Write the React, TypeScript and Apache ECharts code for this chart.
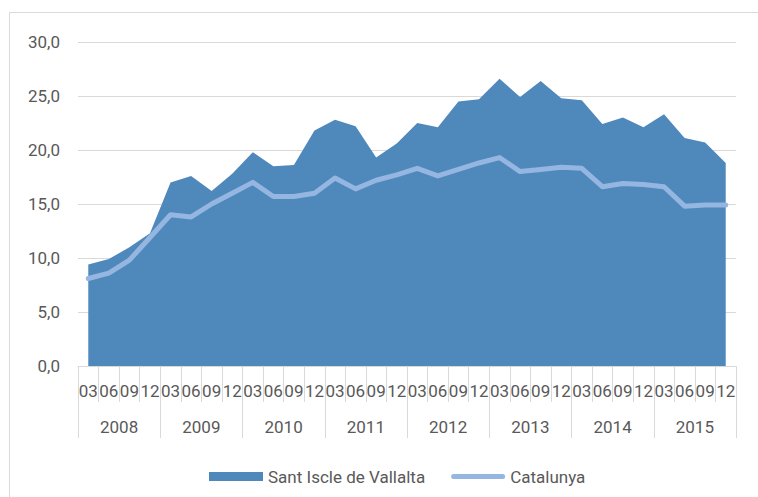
import React, { useEffect, useRef } from "react";
import * as echarts from "echarts";

const years = ["2008", "2009", "2010", "2011", "2012", "2013", "2014", "2015"];
const months = ["03", "06", "09", "12"];
const categories = years.flatMap((y) => months.map((m) => `${y}-${m}`));

const santIscle = [
  9.4, 9.9, 11.0, 12.3,
  17.0, 17.6, 16.2, 17.8,
  19.8, 18.5, 18.6, 21.8,
  22.8, 22.2, 19.3, 20.6,
  22.5, 22.1, 24.5, 24.7,
  26.6, 24.9, 26.4, 24.8,
  24.6, 22.4, 23.0, 22.1,
  23.3, 21.1, 20.7, 18.8,
];

const catalunya = [
  8.1, 8.6, 9.8, 11.9,
  14.0, 13.8, 15.0, 16.0,
  17.0, 15.7, 15.7, 16.0,
  17.4, 16.4, 17.2, 17.7,
  18.3, 17.6, 18.2, 18.8,
  19.3, 18.0, 18.2, 18.4,
  18.3, 16.6, 16.9, 16.8,
  16.6, 14.8, 14.9, 14.9,
];

const FONT = "Roboto";
const TEXT = "#595959";
const GRID = "#d9d9d9";

export default function App() {
  const ref = useRef<HTMLDivElement>(null);
  useEffect(() => {
    if (!ref.current) return;
    const chart = echarts.init(ref.current, null, { renderer: "svg" });
    chart.setOption({
      animation: false,
      textStyle: { fontFamily: FONT },
      graphic: [
        {
          type: "rect",
          shape: { x: 9.5, y: 12.5, width: 760, height: 500 },
          style: { fill: "none", stroke: GRID, lineWidth: 1 },
          silent: true,
        },
      ],
      grid: { left: 78, right: 22, top: 42, bottom: 131, containLabel: false },
      legend: {
        left: 204,
        top: 463,
        itemWidth: 54,
        itemHeight: 9,
        itemGap: 26,
        textStyle: { color: TEXT, fontSize: 17, fontFamily: FONT },
        data: [
          { name: "Sant Iscle de Vallalta", icon: "rect" },
          {
            name: "Catalunya",
            icon: "path://M2.5,0 L51.5,0 A2.5,2.5 0 0 1 51.5,5 L2.5,5 A2.5,2.5 0 0 1 2.5,0 Z",
          },
        ],
      },
      xAxis: [
        {
          type: "category",
          data: categories,
          boundaryGap: true,
          axisLine: { show: true, lineStyle: { color: GRID } },
          axisTick: { show: true, interval: 0, length: 36, lineStyle: { color: GRID } },
          axisLabel: {
            interval: 0,
            margin: 16,
            color: TEXT,
            fontSize: 17,
            fontFamily: FONT,
            formatter: (v: string) => v.split("-")[1],
          },
        },
        {
          type: "category",
          data: years,
          position: "bottom",
          boundaryGap: true,
          axisLine: { show: false },
          axisTick: { show: true, interval: 0, length: 72, lineStyle: { color: GRID } },
          axisLabel: { interval: 0, margin: 52, color: TEXT, fontSize: 17, fontFamily: FONT },
        },
      ],
      yAxis: {
        type: "value",
        min: 0,
        max: 30,
        interval: 5,
        axisLine: { show: false },
        axisTick: { show: false },
        splitLine: { lineStyle: { color: GRID, width: 1 } },
        axisLabel: {
          margin: 18,
          color: TEXT,
          fontSize: 17,
          fontFamily: FONT,
          formatter: (v: number) => v.toFixed(1).replace(".", ","),
        },
      },
      series: [
        {
          name: "Sant Iscle de Vallalta",
          type: "line",
          data: santIscle,
          showSymbol: false,
          symbol: "none",
          lineStyle: { width: 0, color: "#4F88BB" },
          itemStyle: { color: "#4F88BB" },
          areaStyle: { color: "#4F88BB", opacity: 1 },
          z: 2,
        },
        {
          name: "Catalunya",
          type: "line",
          data: catalunya,
          showSymbol: false,
          symbol: "none",
          lineStyle: { width: 5, color: "#94B6E0", cap: "round", join: "round" },
          itemStyle: { color: "#94B6E0" },
          z: 3,
        },
      ],
    });
    return () => chart.dispose();
  }, []);
  return (
    <div
      ref={ref}
      style={{ position: "fixed", left: 0, top: 0, width: 758, height: 497, background: "#fff" }}
    />
  );
}
